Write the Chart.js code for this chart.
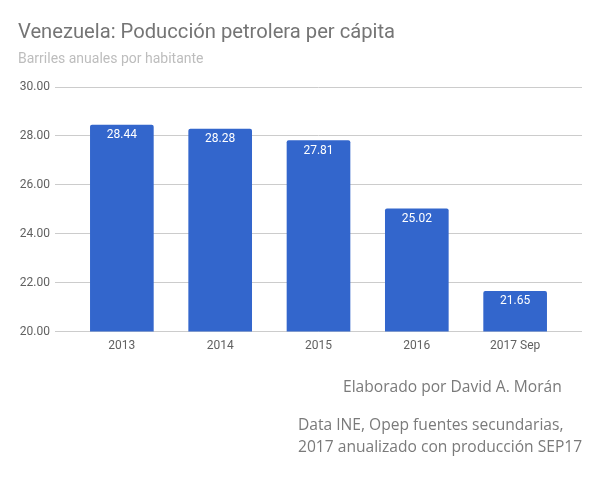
<!DOCTYPE html>
<html>
<head>
<meta charset="utf-8">
<script src="https://cdn.jsdelivr.net/npm/chart.js@4/dist/chart.umd.min.js"></script>
<style>
  body { margin: 0; background: #fff; }
  #wrap { position: relative; width: 600px; height: 489px; }
  .note { position: absolute; font-family: "Open Sans", sans-serif; font-size: 15.6px; color: #7a7a7a; white-space: nowrap; line-height: 22px; }
</style>
</head>
<body>
<div id="wrap">
  <canvas id="myChart" width="600" height="489"></canvas>
  <div class="note" style="left:343px; top:375px;">Elaborado por David A. Morán</div>
  <div class="note" style="left:298px; top:413px;">Data INE, Opep fuentes secundarias,<br>2017 anualizado con producción SEP17</div>
</div>
<script>
var labels = ['2013', '2014', '2015', '2016', '2017 Sep']
var values = [28.44, 28.28, 27.81, 25.02, 21.65]
var yTicks = [20, 22, 24, 26, 28, 30]

// white value labels inside top of each bar
var barLabels = {
  id: 'barLabels',
  afterDatasetsDraw: function (chart) {
    var ctx = chart.ctx
    var meta = chart.getDatasetMeta(0)
    ctx.save()
    ctx.fillStyle = '#ffffff'
    ctx.font = '12px Roboto'
    ctx.textAlign = 'center'
    ctx.textBaseline = 'middle'
    meta.data.forEach(function (bar, i) {
      ctx.fillText(values[i].toFixed(2), bar.x, bar.y + 10)
    })
    ctx.restore()
  }
}

var ctx = document.getElementById('myChart')
var myChart = new Chart(ctx, {
  type: 'bar',
  data: {
    datasets: [{
      data: values.map(function (v, i) { return { x: i, y: v } }),
      backgroundColor: '#3366cc',
      borderRadius: { topLeft: 2, topRight: 2 },
      borderSkipped: 'bottom',
      barThickness: 63
    }]
  },
  options: {
    animation: false,
    responsive: false,
    layout: { padding: { left: 18, right: 18, top: 0, bottom: 129 } },
    plugins: {
      legend: { display: false },
      tooltip: { enabled: false },
      title: {
        display: true,
        align: 'start',
        text: 'Venezuela: Poducción petrolera per cápita',
        color: '#757575',
        font: { family: 'Roboto', size: 20.2, weight: 'normal' },
        padding: { top: 21, bottom: 0 }
      },
      subtitle: {
        display: true,
        align: 'start',
        text: 'Barriles anuales por habitante',
        color: '#bdbdbd',
        font: { family: 'Roboto', size: 14 },
        padding: { top: 6, bottom: 19 }
      }
    },
    scales: {
      x: {
        type: 'linear',
        min: -0.68,
        max: 4.68,
        offset: false,
        grid: { display: false, drawTicks: false, offset: false },
        border: { display: false },
        afterBuildTicks: function (scale) {
          scale.ticks = labels.map(function (l, i) { return { value: i } })
        },
        ticks: {
          padding: 7,
          color: '#616161',
          font: { family: 'Roboto', size: 12 },
          callback: function (v) { return labels[v] }
        }
      },
      y: {
        min: 20,
        max: 30,
        afterFit: function (scale) { scale.width = 37 },
        afterBuildTicks: function (scale) {
          scale.ticks = yTicks.map(function (v) { return { value: v } })
        },
        grid: { color: '#cccccc', drawTicks: false },
        border: { display: false },
        ticks: {
          padding: 5,
          color: '#616161',
          font: { family: 'Roboto', size: 12 },
          callback: function (v) { return v.toFixed(2) }
        }
      }
    }
  },
  plugins: [barLabels]
})
</script>
</body>
</html>
